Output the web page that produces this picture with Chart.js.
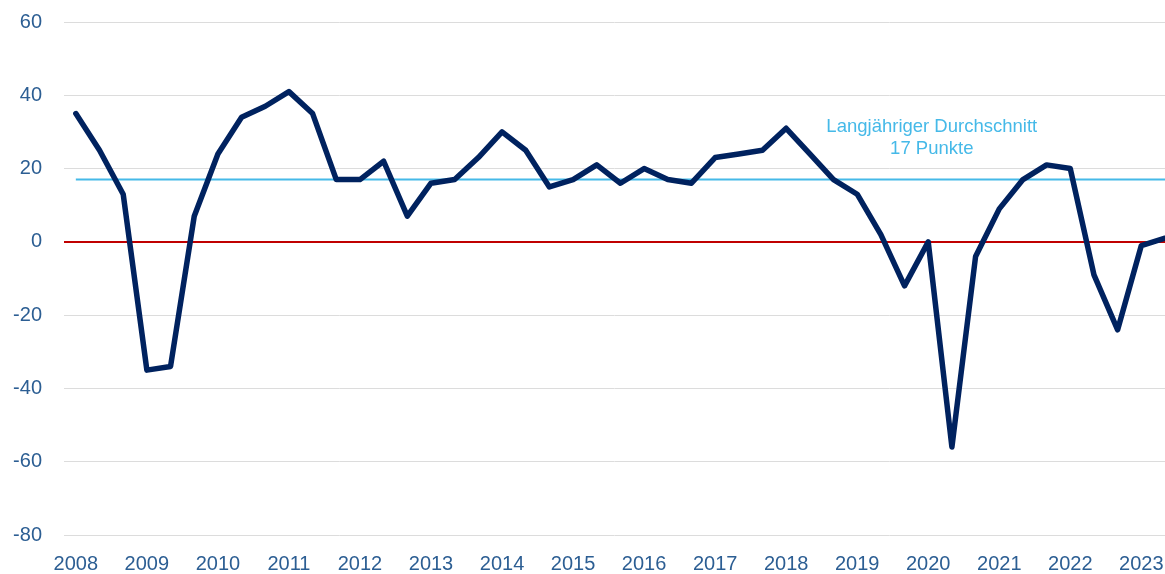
<!DOCTYPE html>
<html>
<head>
<meta charset="utf-8">
<script src="https://cdn.jsdelivr.net/npm/chart.js@4"></script>
<style>
  html, body { margin: 0; padding: 0; background: #fff; overflow: hidden; }
  #wrap { width: 1165px; height: 574px; }
</style>
</head>
<body>
<div id="wrap"><canvas id="chart"></canvas></div>
<script>
// three survey values per year, 2008 to 2023
let years = [2008, 2009, 2010, 2011, 2012, 2013, 2014, 2015, 2016, 2017, 2018, 2019, 2020, 2021, 2022, 2023];
let values = [
  35, 25, 13,
  -35, -34, 7,
  24, 34, 37,
  41, 35, 17,
  17, 22, 7,
  16, 17, 23,
  30, 25, 15,
  17, 21, 16,
  20, 17, 16,
  23, 24, 25,
  31, 24, 17,
  13, 2, -12,
  0, -56, -4,
  9, 17, 21,
  20, -9, -24,
  -1, 1
];
let average = 17;
let averageLabel = ["Langjähriger Durchschnitt", "17 Punkte"];
let yTicks = [-80, -60, -40, -20, 0, 20, 40, 60];

let perYear = 3;
let points = values.map((v, i) => ({ x: i, y: v }));
let avgPoints = [{ x: 0, y: average }, { x: values.length - 1, y: average }];

const tickColor = "#2c5e93";
const avgColor = "#45b9e8";

// text above the average line
const avgNote = {
  id: "avgNote",
  afterDatasetsDraw(chart) {
    const { ctx, scales } = chart;
    const cx = scales.x.getPixelForValue(36.15);
    ctx.save();
    ctx.font = "18.5px 'Liberation Sans'";
    ctx.fillStyle = avgColor;
    ctx.textAlign = "center";
    ctx.textBaseline = "middle";
    ctx.fillText(averageLabel[0], cx, scales.y.getPixelForValue(31.4));
    ctx.fillText(averageLabel[1], cx, scales.y.getPixelForValue(25.4));
    ctx.restore();
  },
};

new Chart(document.getElementById("chart").getContext("2d"), {
  type: "line",
  data: {
    datasets: [
      {
        label: "Index",
        data: points,
        borderColor: "#00225f",
        borderWidth: 5.5,
        borderJoinStyle: "round",
        borderCapStyle: "round",
        pointRadius: 0,
        tension: 0,
        order: 0,
      },
      {
        label: "Durchschnitt",
        data: avgPoints,
        borderColor: avgColor,
        borderWidth: 2,
        pointRadius: 0,
        order: 1,
      },
    ],
  },
  options: {
    responsive: true,
    maintainAspectRatio: false,
    animation: false,
    layout: { padding: { left: 10, right: 0, top: 22, bottom: 0 } },
    plugins: {
      legend: { display: false },
      tooltip: { enabled: false },
    },
    scales: {
      x: {
        type: "linear",
        min: -0.5,
        max: values.length - 1,
        grid: { display: false, drawTicks: false },
        border: { display: false },
        afterBuildTicks: (scale) => {
          scale.ticks = years.map((y, i) => ({ value: i * perYear }));
        },
        afterFit: (scale) => {
          scale.height = 39;
          scale.paddingLeft = 0;
          scale.paddingRight = 0;
        },
        ticks: {
          padding: 17,
          color: tickColor,
          font: { family: "Liberation Sans", size: 20 },
          maxRotation: 0,
          autoSkip: false,
          callback: (v) => years[v / perYear],
        },
      },
      y: {
        min: -80,
        max: 60,
        afterBuildTicks: (scale) => {
          scale.ticks = yTicks.map((v) => ({ value: v }));
        },
        afterFit: (scale) => {
          scale.width = 54;
          scale.paddingTop = 0;
          scale.paddingBottom = 0;
        },
        border: { display: false },
        grid: {
          drawTicks: false,
          color: (c) => (c.tick && c.tick.value === 0 ? "#c00000" : "#dcdcdc"),
          lineWidth: (c) => (c.tick && c.tick.value === 0 ? 2 : 1),
        },
        ticks: {
          padding: 22,
          color: tickColor,
          font: { family: "Liberation Sans", size: 20 },
        },
      },
    },
  },
  plugins: [avgNote],
});
</script>
</body>
</html>
